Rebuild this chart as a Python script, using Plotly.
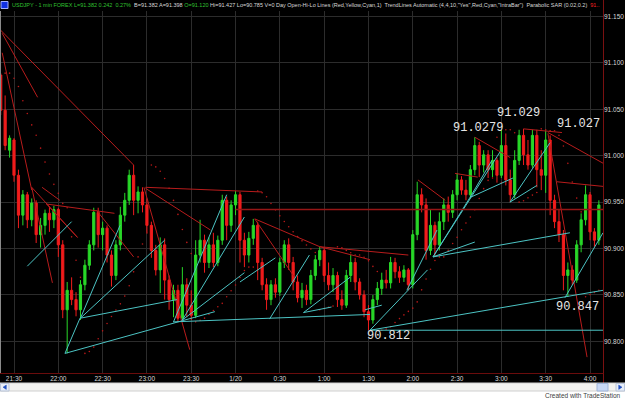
import plotly.graph_objects as go
import pandas as pd

# ---------------- data (3-minute bars) ----------------
open_ = [91.087, 91.049, 91.006, 91.017, 90.979, 90.936, 90.958, 90.931, 90.949, 90.915,
         90.925, 90.938, 90.931, 90.942, 90.904, 90.834, 90.855, 90.845, 90.834, 90.861,
         90.882, 90.904, 90.939, 90.915, 90.922, 90.893, 90.871, 90.904, 90.936, 90.952,
         90.979, 90.952, 90.961, 90.947, 90.925, 90.898, 90.877, 90.904, 90.866, 90.845,
         90.855, 90.825, 90.861, 90.839, 90.828, 90.893, 90.909, 90.885, 90.904, 90.885,
         90.909, 90.952, 90.925, 90.947, 90.958, 90.909, 90.893, 90.911, 90.925, 90.885,
         90.861, 90.845, 90.861, 90.853, 90.885, 90.904, 90.885, 90.864, 90.847, 90.855,
         90.845, 90.871, 90.888, 90.898, 90.871, 90.861, 90.871, 90.845, 90.839, 90.871,
         90.885, 90.864, 90.850, 90.832, 90.823, 90.845, 90.857, 90.866, 90.863, 90.885,
         90.875, 90.869, 90.877, 90.861, 90.915, 90.958, 90.947, 90.898, 90.925, 90.904,
         90.929, 90.947, 90.939, 90.958, 90.974, 90.963, 90.958, 90.985, 91.011, 90.990,
         91.001, 90.985, 90.995, 90.979, 91.011, 90.974, 90.958, 90.995, 91.022, 91.001,
         90.990, 91.022, 90.985, 90.979, 91.017, 90.952, 90.929, 90.915, 90.871, 90.877,
         90.866, 90.904, 90.931, 90.958, 90.918, 90.909]
high = [91.089, 91.065, 91.022, 91.019, 90.985, 90.963, 90.961, 90.954, 90.952, 90.933,
        90.942, 90.945, 90.946, 90.944, 90.909, 90.864, 90.869, 90.853, 90.866, 90.888,
        90.909, 90.944, 90.944, 90.929, 90.925, 90.898, 90.909, 90.945, 90.960, 90.985,
        90.990, 90.967, 90.966, 90.954, 90.929, 90.904, 90.912, 90.911, 90.871, 90.861,
        90.861, 90.880, 90.868, 90.855, 90.909, 90.931, 90.915, 90.912, 90.917, 90.914,
        90.958, 90.956, 90.952, 90.962, 90.961, 90.917, 90.918, 90.932, 90.929, 90.890,
        90.868, 90.866, 90.868, 90.890, 90.909, 90.911, 90.891, 90.871, 90.863, 90.861,
        90.877, 90.893, 90.902, 90.901, 90.885, 90.879, 90.875, 90.855, 90.877, 90.893,
        90.890, 90.868, 90.855, 90.839, 90.850, 90.864, 90.874, 90.877, 90.891, 90.890,
        90.881, 90.882, 90.879, 90.920, 90.972, 90.965, 90.954, 90.942, 90.929, 90.939,
        90.954, 90.956, 90.963, 90.981, 90.978, 90.974, 90.990, 91.020, 91.015, 91.006,
        91.006, 91.006, 90.998, 91.028, 91.024, 90.985, 91.006, 91.028, 91.029, 91.017,
        91.028, 91.028, 91.006, 91.027, 91.022, 90.958, 90.942, 90.920, 90.885, 90.882,
        90.909, 90.938, 90.968, 90.961, 90.922, 90.952]
low = [91.044, 91.006, 90.998, 90.972, 90.922, 90.925, 90.922, 90.924, 90.906, 90.901,
       90.915, 90.918, 90.922, 90.891, 90.825, 90.787, 90.839, 90.827, 90.823, 90.855,
       90.877, 90.898, 90.901, 90.898, 90.885, 90.859, 90.866, 90.898, 90.929, 90.947,
       90.936, 90.938, 90.939, 90.917, 90.890, 90.871, 90.852, 90.845, 90.834, 90.826,
       90.821, 90.823, 90.826, 90.823, 90.825, 90.885, 90.874, 90.879, 90.880, 90.881,
       90.904, 90.909, 90.918, 90.936, 90.885, 90.880, 90.885, 90.904, 90.866, 90.855,
       90.834, 90.839, 90.847, 90.849, 90.879, 90.877, 90.855, 90.842, 90.836, 90.839,
       90.840, 90.866, 90.881, 90.864, 90.855, 90.853, 90.837, 90.834, 90.836, 90.864,
       90.855, 90.845, 90.826, 90.812, 90.819, 90.839, 90.850, 90.857, 90.857, 90.868,
       90.863, 90.864, 90.855, 90.857, 90.909, 90.939, 90.888, 90.893, 90.891, 90.898,
       90.920, 90.929, 90.933, 90.952, 90.958, 90.952, 90.954, 90.979, 90.977, 90.982,
       90.976, 90.977, 90.971, 90.976, 90.968, 90.950, 90.954, 90.990, 90.990, 90.985,
       90.987, 90.966, 90.963, 90.960, 90.936, 90.922, 90.907, 90.855, 90.848, 90.861,
       90.863, 90.896, 90.925, 90.909, 90.902, 90.904]
close = [91.049, 91.011, 91.019, 90.979, 90.936, 90.958, 90.931, 90.949, 90.915, 90.925,
         90.938, 90.931, 90.942, 90.904, 90.834, 90.855, 90.845, 90.834, 90.861, 90.882,
         90.904, 90.939, 90.915, 90.922, 90.893, 90.871, 90.904, 90.936, 90.952, 90.979,
         90.952, 90.961, 90.947, 90.925, 90.898, 90.877, 90.904, 90.866, 90.845, 90.855,
         90.825, 90.861, 90.839, 90.828, 90.893, 90.909, 90.885, 90.904, 90.885, 90.909,
         90.952, 90.925, 90.947, 90.958, 90.909, 90.893, 90.911, 90.925, 90.885, 90.861,
         90.845, 90.861, 90.853, 90.885, 90.904, 90.885, 90.864, 90.847, 90.855, 90.845,
         90.871, 90.888, 90.898, 90.871, 90.861, 90.871, 90.845, 90.839, 90.871, 90.885,
         90.864, 90.850, 90.832, 90.823, 90.845, 90.857, 90.866, 90.863, 90.885, 90.875,
         90.869, 90.877, 90.861, 90.915, 90.958, 90.947, 90.898, 90.925, 90.904, 90.929,
         90.947, 90.939, 90.958, 90.974, 90.963, 90.958, 90.985, 91.011, 90.990, 91.001,
         90.985, 90.995, 90.979, 91.011, 90.974, 90.958, 90.995, 91.022, 91.001, 90.990,
         91.022, 90.985, 90.979, 91.017, 90.952, 90.929, 90.915, 90.871, 90.877, 90.866,
         90.904, 90.931, 90.958, 90.918, 90.909, 90.947]
bar_times = pd.date_range("2010-01-19 21:21", periods=len(close), freq="3min")

# automatic trendlines (start time, start price, end time, end price)
red_t0 = ["21:20:31", "21:22", "21:22", "21:42", "21:42", "21:49", "21:52", "21:52", "22:26",
          "22:59", "22:59", "22:58", "00:13", "00:57", "00:57", "00:13", "02:03:30", "02:28:36",
          "02:42", "03:15", "03:31:30", "03:31:30", "03:37:36"]
red_p0 = [91.136, 91.132, 91.111, 90.966, 90.966, 90.966, 90.948, 90.948, 90.941,
          90.966, 90.965, 90.966, 90.932, 90.902, 90.902, 90.932, 90.974, 90.981,
          91.020, 91.029, 91.025, 91.024, 90.972]
red_t1 = ["22:51", "21:46", "21:42", "22:13", "21:56", "22:01", "22:38", "22:13", "22:51",
          "00:18", "23:43", "23:29", "00:57", "01:31", "01:57", "00:40", "02:22", "02:44",
          "03:06", "03:41", "04:08:48", "03:58", "04:08:48"]
red_p1 = [90.990, 91.063, 90.963, 90.912, 90.863, 90.952, 90.938, 90.912, 90.891,
          90.961, 90.920, 90.791, 90.902, 90.888, 90.893, 90.869, 90.952, 90.977,
          90.998, 91.025, 90.992, 90.783, 90.967]

cyan_t0 = ["22:04:30", "22:04:30", "22:15", "22:15", "22:15", "21:39", "23:17:42", "23:18",
           "23:24", "23:24", "00:23", "00:03", "00:46", "00:46", "01:31", "01:31", "01:27:36",
           "01:56", "02:13:42", "02:13:42", "02:13:42", "02:13:42", "02:38:42", "02:38:42",
           "03:05:48", "03:05:48", "03:43"]
cyan_p0 = [90.787, 90.787, 90.825, 90.825, 90.825, 90.881, 90.821, 90.821,
           90.823, 90.823, 90.824, 90.864, 90.831, 90.831, 90.812, 90.812, 90.834,
           90.855, 90.891, 90.891, 90.891, 90.891, 90.955, 90.955,
           90.950, 90.950, 90.847]
cyan_t1 = ["23:46", "22:14:42", "22:41:48", "23:20:24", "23:12", "22:09", "01:31", "23:54",
           "00:06", "00:06", "00:50", "00:27", "01:05", "01:17:30", "02:10", "04:08:48", "01:39",
           "02:16:24", "02:38:42", "02:59", "02:42", "03:46:24", "02:53:36", "03:07:48",
           "03:32:54", "03:24", "04:08:48"]
cyan_p1 = [90.832, 90.825, 90.925, 90.845, 90.909, 90.929, 90.829, 90.958,
           90.874, 90.934, 90.893, 90.890, 90.837, 90.869, 90.877, 90.855, 90.839,
           90.920, 90.955, 91.004, 90.907, 90.917, 90.995, 90.976,
           91.014, 90.968, 90.917]

day_open_price = 90.942
day_open_time = "00:00"
day_low_price = 90.812
day_low_time = "01:31"
end_time = "04:08:48"

label_texts = ["90.812", "91.0279", "91.029", "91.027", "90.847"]
label_times = ["01:43:54", "02:44:06", "03:11:54", "03:51:54", "03:51:12"]
label_prices = [90.806, 91.030, 91.046, 91.034, 90.837]

price_ticks = [90.80, 90.85, 90.90, 90.95, 91.00, 91.05, 91.10, 91.15]
time_ticks = ["21:30", "22:00", "22:30", "23:00", "23:30", "00:00", "00:30", "01:00",
              "01:30", "02:00", "02:30", "03:00", "03:30", "04:00"]
time_tick_text = ["21:30", "22:00", "22:30", "23:00", "23:30", "1/20", "0:30", "1:00",
                  "1:30", "2:00", "2:30", "3:00", "3:30", "4:00"]


def ts(hhmm):
    h = int(hhmm[:2])
    day = "2010-01-19" if h >= 21 else "2010-01-20"
    t = hhmm if len(hhmm) > 5 else hhmm + ":00"
    return f"{day} {t}"


# Parabolic SAR (0.02, 0.2) computed from the bars
def psar(hi, lo, step=0.02, amax=0.2):
    n = len(hi)
    out = [None] * n
    trend = -1
    ep = lo[0]
    s = hi[0]
    af = step
    out[0] = s
    for i in range(1, n):
        s = s + af * (ep - s)
        if trend == 1:
            s = min(s, lo[i - 1], lo[i - 2] if i > 1 else lo[i - 1])
            if lo[i] < s:
                trend, s, ep, af = -1, ep, lo[i], step
            elif hi[i] > ep:
                ep = hi[i]
                af = min(af + step, amax)
        else:
            s = max(s, hi[i - 1], hi[i - 2] if i > 1 else hi[i - 1])
            if hi[i] > s:
                trend, s, ep, af = 1, ep, hi[i], step
            elif lo[i] < ep:
                ep = lo[i]
                af = min(af + step, amax)
        out[i] = s
    return out


sar = psar(high, low)

fig = go.Figure()
fig.add_trace(go.Candlestick(
    x=bar_times, open=open_, high=high, low=low, close=close,
    increasing=dict(line=dict(color="#28d828", width=1), fillcolor="#28d828"),
    decreasing=dict(line=dict(color="#f01c1c", width=1), fillcolor="#f01c1c"),
    whiskerwidth=0, showlegend=False, hoverinfo="skip"))

fig.add_trace(go.Scatter(x=bar_times[1:], y=sar[1:], mode="markers",
                         marker=dict(color="#b81818", size=1.6), showlegend=False,
                         hoverinfo="skip"))


def segs(t0, p0, t1, p1):
    xs, ys = [], []
    for a, b, c, d in zip(t0, p0, t1, p1):
        xs += [ts(a), ts(c), None]
        ys += [b, d, None]
    return xs, ys


rx, ry = segs(red_t0, red_p0, red_t1, red_p1)
fig.add_trace(go.Scatter(x=rx, y=ry, mode="lines", line=dict(color="#b81c1c", width=1),
                         showlegend=False, hoverinfo="skip"))
cx, cy = segs(cyan_t0, cyan_p0, cyan_t1, cyan_p1)
fig.add_trace(go.Scatter(x=cx, y=cy, mode="lines", line=dict(color="#4cc4c4", width=1),
                         showlegend=False, hoverinfo="skip"))
fig.add_trace(go.Scatter(x=[ts(day_open_time), ts(end_time)], y=[day_open_price] * 2,
                         mode="lines", line=dict(color="#961616", width=1.5),
                         showlegend=False, hoverinfo="skip"))
fig.add_trace(go.Scatter(x=[ts(day_low_time), ts(end_time)], y=[day_low_price] * 2,
                         mode="lines", line=dict(color="#4cc4c4", width=1),
                         showlegend=False, hoverinfo="skip"))

for t, p, s in zip(label_times, label_prices, label_texts):
    fig.add_annotation(x=ts(t), y=p, text=s, showarrow=False, xanchor="center",
                       yanchor="middle",
                       font=dict(family="Liberation Mono", size=12, color="#e6e6e6"))

W, H = 625, 399
L, R, T, B = 0, 22, 11, 26
PW, PH = W - L - R, H - T - B


def px(x):
    return (x - L) / PW


def py(y):
    return (H - B - y) / PH


def tri(points):
    return "M " + " L ".join(f"{px(a):.5f},{py(b):.5f}" for a, b in points) + " Z"


shapes = [
    dict(type="line", xref="paper", yref="paper", x0=px(0.5), x1=px(0.5), y0=py(11), y1=py(373),
         line=dict(color="#8a8a8a", width=1)),
    dict(type="line", xref="paper", yref="paper", x0=px(603.5), x1=px(603.5), y0=py(0), y1=py(383),
         line=dict(color="#7a1010", width=1)),
    dict(type="line", xref="paper", yref="paper", x0=px(0), x1=px(603.5), y0=py(373.5), y1=py(373.5),
         line=dict(color="#6a0c0c", width=1)),
    dict(type="rect", xref="paper", yref="paper", x0=px(0), x1=px(625), y0=py(399), y1=py(383),
         fillcolor="#ffffff", line=dict(width=0), layer="above"),
    dict(type="rect", xref="paper", yref="paper", x0=px(0), x1=px(625), y0=py(391), y1=py(383),
         fillcolor="#f2f2f0", line=dict(color="#d0d0d0", width=1), layer="above"),
    dict(type="rect", xref="paper", yref="paper", x0=px(0.5), x1=px(9), y0=py(391), y1=py(383.5),
         fillcolor="#e8eef8", line=dict(color="#b8c4d8", width=1), layer="above"),
    dict(type="rect", xref="paper", yref="paper", x0=px(616), x1=px(624.5), y0=py(391), y1=py(383.5),
         fillcolor="#e8eef8", line=dict(color="#b8c4d8", width=1), layer="above"),
    dict(type="rect", xref="paper", yref="paper", x0=px(597), x1=px(608), y0=py(391), y1=py(383.5),
         fillcolor="#c8d8f4", line=dict(color="#9fb4d8", width=1), layer="above"),
    # scroll arrows
    dict(type="path", xref="paper", yref="paper", path=tri([(6.3, 385), (3, 387.2), (6.3, 389.4)]),
         fillcolor="#2050c0", line=dict(color="#2050c0", width=0.5), layer="above"),
    dict(type="path", xref="paper", yref="paper", path=tri([(618.7, 385), (622, 387.2), (618.7, 389.4)]),
         fillcolor="#2050c0", line=dict(color="#2050c0", width=0.5), layer="above"),
    # blue icon in title strip
    dict(type="rect", xref="paper", yref="paper", x0=px(1), x1=px(8), y0=py(8.5), y1=py(1.5),
         fillcolor="#1030e0", line=dict(color="#a0b0ff", width=1), layer="above"),
]

fig.add_annotation(xref="paper", yref="paper", x=px(623), y=py(395.5), text="Created with TradeStation",
                   showarrow=False, xanchor="right", yanchor="middle",
                   font=dict(family="Liberation Sans", size=6.5, color="#404040"))

title_html = ("<span style='color:#30c030'>USDJPY - 1 min FOREX L=91.382 0.242  0.27%</span>"
              "  <span style='color:#d8d8d8'>B=91.382 A=91.398</span>"
              " <span style='color:#30c030'>O=91.120</span>"
              " <span style='color:#d8d8d8'>Hi=91.427 Lo=90.785 V=0 Day Open-Hi-Lo Lines (Red,Yellow,Cyan,1)"
              "  TrendLines Automatic (4,4,10,\"Yes\",Red,Cyan,\"IntraBar\")  Parabolic SAR (0.02,0.2)</span>"
              "  <span style='color:#ff2020'>91..</span>")
fig.add_annotation(xref="paper", yref="paper", x=px(10), y=py(5), text=title_html,
                   showarrow=False, xanchor="left", yanchor="middle",
                   font=dict(family="Liberation Sans", size=5.5, color="#d8d8d8"))

fig.update_layout(
    width=W, height=H,
    margin=dict(l=L, r=R, t=T, b=B, pad=0),
    paper_bgcolor="#000000", plot_bgcolor="#000000",
    shapes=shapes,
    showlegend=False,
    xaxis=dict(
        range=[ts("21:20:31"), ts("04:08:48")],
        rangeslider=dict(visible=False),
        tickvals=[ts(t) for t in time_ticks], ticktext=time_tick_text,
        showgrid=True, gridcolor="#2c2c2c", gridwidth=1, zeroline=False,
        ticks="", ticklen=0,
        tickfont=dict(family="Liberation Sans", size=6.5, color="#d8d8d8"),
        showline=False, fixedrange=True,
    ),
    yaxis=dict(
        side="right", range=[90.7659, 91.156],
        tickvals=price_ticks, ticktext=[f"{v:.3f}" for v in price_ticks],
        showgrid=True, gridcolor="#2c2c2c", gridwidth=1, zeroline=False,
        ticks="", tickfont=dict(family="Liberation Sans", size=6.5, color="#d8d8d8"),
        showline=False, fixedrange=True,
    ),
)

fig.write_html("out.html")
